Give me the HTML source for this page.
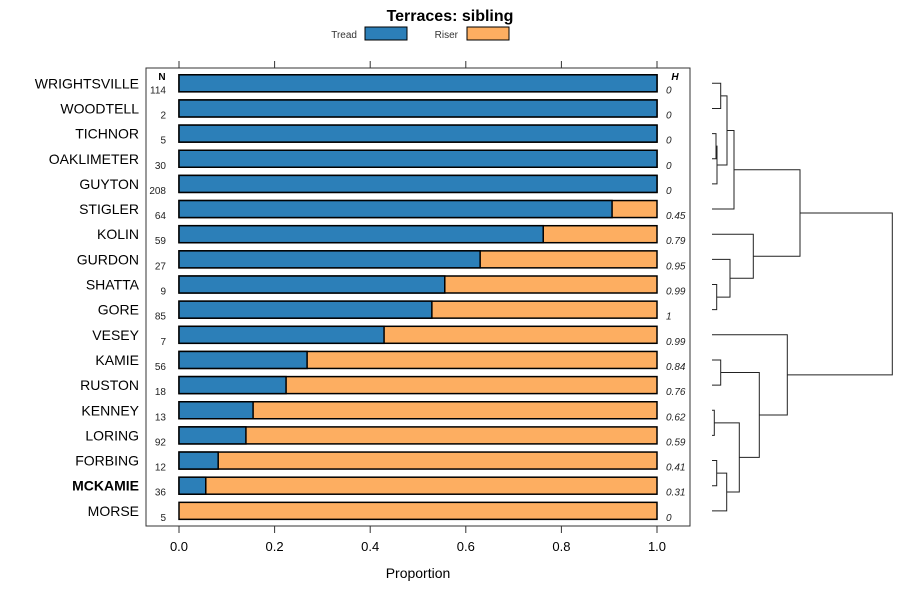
<!DOCTYPE html>
<html><head><meta charset="utf-8"><style>
body{margin:0;background:#fff;}
svg text{font-family:"Liberation Sans",sans-serif;}
</style></head><body>
<svg id="c" width="900" height="600" xmlns="http://www.w3.org/2000/svg">
<text x="450" y="21" text-anchor="middle" font-size="16" font-weight="bold">Terraces: sibling</text>
<g>
<text x="357" y="38" text-anchor="end" font-size="10" fill="#333">Tread</text>
<rect x="365" y="27" width="42" height="13" fill="#2c7fb8" stroke="#000"/>
<text x="458" y="38" text-anchor="end" font-size="10" fill="#333">Riser</text>
<rect x="467" y="27" width="42" height="13" fill="#fdae61" stroke="#000"/>
</g>
<rect x="146" y="68" width="544" height="458" fill="none" stroke="#333"/>
<text x="162" y="80" text-anchor="middle" font-size="10" font-weight="bold">N</text>
<text x="675" y="80" text-anchor="middle" font-size="10" font-weight="bold" font-style="italic">H</text>
<text x="418" y="578" text-anchor="middle" font-size="14">Proportion</text>
<g id="bars"></g><g id="axis"></g><g id="dend"></g>
</svg>
<script>
const names=["WRIGHTSVILLE","WOODTELL","TICHNOR","OAKLIMETER","GUYTON","STIGLER","KOLIN","GURDON","SHATTA","GORE","VESEY","KAMIE","RUSTON","KENNEY","LORING","FORBING","MCKAMIE","MORSE"];
const tread=[1,1,1,1,1,0.906,0.762,0.63,0.556,0.529,0.429,0.268,0.224,0.155,0.14,0.082,0.056,0];
const counts=["114","2","5","30","208","64","59","27","9","85","7","56","18","13","92","12","36","5"];
const hvals=["0","0","0","0","0","0.45","0.79","0.95","0.99","1","0.99","0.84","0.76","0.62","0.59","0.41","0.31","0"];
const ticks=[0,0.2,0.4,0.6,0.8,1];
const NS="http://www.w3.org/2000/svg";
const X=v=>179+v*478, Y=i=>83.3+i*25.15;
function mk(p,t,a){const e=document.createElementNS(NS,t);for(const k in a)e.setAttribute(k,a[k]);p.appendChild(e);return e;}
const bars=document.getElementById('bars');
names.forEach((n,i)=>{
 const y=Y(i);
 let r=mk(bars,'rect',{x:X(0),y:y-8.5,width:X(1)-X(0),height:17,fill:'#fdae61',stroke:'#000','stroke-width':1.5});
 
 
 if(tread[i]>0){r=mk(bars,'rect',{x:X(0),y:y-8.5,width:X(tread[i])-X(0),height:17,fill:'#2c7fb8',stroke:'#000','stroke-width':1.5});
 
 }
 let t=mk(bars,'text',{x:139,y:y+5,'text-anchor':'end','font-size':14,'font-weight':n==='MCKAMIE'?'bold':'normal'});t.textContent=n;
 
 
 t=mk(bars,'text',{x:166,y:y+10,'text-anchor':'end','font-size':10,fill:'#222'});t.textContent=counts[i];
 
 
 t=mk(bars,'text',{x:666,y:y+10,'font-size':10,'font-style':'italic',fill:'#222'});t.textContent=hvals[i];
 
 
});
const ax=document.getElementById('axis');
ticks.forEach(v=>{
 let l=mk(ax,'line',{x1:X(v),x2:X(v),y1:526,y2:533,stroke:'#333'});
 
 
 l=mk(ax,'line',{x1:X(v),x2:X(v),y1:61,y2:68,stroke:'#333'});
 
 
 const t=mk(ax,'text',{x:X(v),y:551,'text-anchor':'middle','font-size':13});t.textContent=v.toFixed(1);
 
 
});
const merges=[[0,1,720.7],[2,3,716],[-2,4,717],[-1,-3,727],[-4,5,734],[8,9,716.7],[7,-6,730],[6,-7,753.3],[-5,-8,800],[11,12,720.7],[13,14,714.3],[15,16,716.7],[-12,17,726.7],[-11,-13,739.3],[-10,-14,759.3],[10,-15,787.3],[-9,-16,892.3]];
const dg=document.getElementById('dend');const pos=[];
function node(k){if(k>=0)return {x:712,y:Y(k)};return pos[-k-1];}
merges.forEach((m,j)=>{
 const a=node(m[0]),b=node(m[1]),h=m[2];
 const p=mk(dg,'path',{d:`M${a.x},${a.y}H${h}V${b.y}H${b.x}`,fill:'none',stroke:'#222','stroke-width':1});
 
 
 pos.push({x:h,y:(a.y+b.y)/2});
});
</script>
</body></html>
